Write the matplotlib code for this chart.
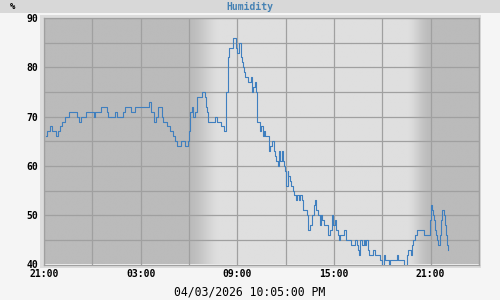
import numpy as np
import pandas as pd
import matplotlib
matplotlib.use('Agg')
import matplotlib.pyplot as plt
import matplotlib.dates as mdates
from matplotlib.patches import Rectangle
from matplotlib.ticker import MultipleLocator

start = pd.Timestamp('2026-03-03 21:00')
end = pd.Timestamp('2026-03-05 00:00')

# minutes after 21:00 (03/03) where the reading changes, and the new reading (%)
minutes = [
    7, 12, 22, 30, 45, 52, 60, 67, 79, 92,
    122, 130, 139, 157, 186, 191, 212, 234, 237, 265,
    273, 296, 303, 323, 339, 391, 397, 410, 416, 424,
    439, 445, 457, 470, 482, 488, 495, 511, 525, 536,
    539, 544, 550, 556, 563, 569, 588, 599, 603, 606,
    612, 637, 646, 659, 672, 676, 679, 685, 689, 702,
    714, 720, 728, 733, 738, 741, 743, 747, 761, 770,
    774, 776, 780, 784, 789, 793, 795, 805, 809, 814,
    817, 820, 824, 839, 842, 849, 855, 861, 865, 870,
    876, 880, 886, 890, 894, 898, 902, 907, 910, 917,
    920, 927, 932, 938, 944, 949, 954, 960, 964, 981,
    985, 989, 998, 1004, 1010, 1014, 1019, 1026, 1031, 1035,
    1044, 1056, 1066, 1072, 1076, 1085, 1088, 1095, 1099, 1103,
    1119, 1124, 1144, 1159, 1165, 1169, 1174, 1178, 1184, 1190,
    1196, 1200, 1205, 1209, 1227, 1234, 1250, 1259, 1265, 1271,
    1283, 1290, 1314, 1320, 1339, 1352, 1355, 1368, 1370, 1376,
    1383, 1389, 1414, 1436, 1439, 1441, 1445, 1449, 1453, 1457,
    1461, 1465, 1469, 1476, 1480, 1482, 1488, 1492, 1497, 1500,
    1505,
]
humidity = [
    66, 67, 68, 67, 66, 67, 68, 69, 70, 71,
    70, 69, 70, 71, 70, 71, 72, 71, 70, 71,
    70, 71, 72, 71, 72, 73, 71, 69, 70, 72,
    70, 69, 68, 67, 66, 65, 64, 65, 64, 65,
    67, 71, 72, 70, 71, 74, 75, 74, 72, 71,
    69, 70, 69, 68, 67, 71, 75, 82, 84, 86,
    84, 83, 85, 82, 81, 80, 79, 78, 77, 78,
    77, 75, 76, 77, 75, 71, 69, 67, 68, 67,
    66, 67, 66, 63, 64, 65, 63, 62, 61, 60,
    63, 61, 63, 61, 60, 59, 56, 59, 58, 57,
    56, 55, 54, 53, 54, 53, 54, 53, 51, 50,
    47, 48, 50, 52, 53, 51, 50, 48, 50, 49,
    48, 46, 47, 50, 48, 49, 47, 46, 45, 46,
    47, 45, 44, 45, 44, 43, 42, 45, 44, 45,
    44, 45, 43, 42, 43, 42, 41, 40, 42, 41,
    40, 41, 42, 41, 40, 42, 43, 42, 44, 45,
    46, 47, 46, 47, 49, 52, 51, 50, 49, 47,
    46, 45, 44, 46, 49, 51, 50, 48, 46, 44,
    43,
]

# day / night shading
dawn = (pd.Timestamp('2026-03-04 06:00'), pd.Timestamp('2026-03-04 08:00'))
dusk = (pd.Timestamp('2026-03-04 19:30'), pd.Timestamp('2026-03-04 21:00'))
night_level, day_level = 0xbb, 0xdf

times = start + pd.to_timedelta(minutes, unit='min')

fig = plt.figure(figsize=(5, 3), dpi=100, facecolor='#f5f5f5')
fig.patches.append(Rectangle((0, 1 - 12.7 / 300), 1, 12.7 / 300, transform=fig.transFigure,
                             facecolor='#d8d8d8', edgecolor='none', zorder=-10))
fig.patches.append(Rectangle((40 / 500, 32 / 300), 441 / 500, 253 / 300, transform=fig.transFigure,
                             facecolor='#dcdcdc', edgecolor='none', zorder=-10))

ax = fig.add_axes([44 / 500, 35.5 / 300, 435 / 500, 246.5 / 300])

grid_t = pd.date_range(start, end, freq='1min')
up = np.asarray((grid_t - dawn[0]) / (dawn[1] - dawn[0]), dtype=float)
down = np.asarray((dusk[1] - grid_t) / (dusk[1] - dusk[0]), dtype=float)
frac = np.clip(np.minimum(up, down), 0, 1)
frac = frac * frac * (3 - 2 * frac)
shade = night_level + (day_level - night_level) * frac
ax.imshow(shade[None, :], extent=[mdates.date2num(start), mdates.date2num(end), 40, 90],
          aspect='auto', cmap='gray', vmin=0, vmax=255, zorder=0, interpolation='bilinear')

ax.plot(times, humidity, drawstyle='steps-post', color='#3f7fbf', lw=0.8, zorder=3)

ax.set_xlim(start, end)
ax.set_ylim(40, 90)
ax.xaxis.set_major_locator(mdates.HourLocator(byhour=[3, 9, 15, 21]))
ax.xaxis.set_minor_locator(mdates.HourLocator(byhour=range(0, 24, 3)))
ax.xaxis.set_major_formatter(mdates.DateFormatter('%H:%M'))
ax.yaxis.set_major_locator(MultipleLocator(10))
ax.yaxis.set_minor_locator(MultipleLocator(5))
ax.grid(True, which='both', color='#a0a0a0', lw=0.9, zorder=1)
ax.set_axisbelow(False)
for s in ax.spines.values():
    s.set_color('#a0a0a0')
    s.set_linewidth(0.9)
ax.tick_params(which='both', length=0)
ax.tick_params(axis='y', pad=4)
ax.tick_params(axis='x', pad=3.5)
for lab in ax.get_xticklabels() + ax.get_yticklabels():
    lab.set_family('DejaVu Sans Mono')
    lab.set_fontweight('bold')
    lab.set_fontsize(7)

fig.text(13 / 500, 1 - 6.5 / 300, '%', family='DejaVu Sans Mono', weight='bold',
         fontsize=6.5, ha='center', va='center')
fig.text(0.5, 1 - 6.5 / 300, 'Humidity', family='DejaVu Sans Mono', weight='bold',
         fontsize=7, color='#4682b4', ha='center', va='center')
fig.text(0.5, 1 - 292 / 300, '04/03/2026 10:05:00 PM', family='DejaVu Sans Mono',
         fontsize=8.3, ha='center', va='center')

fig.savefig('out.png', dpi=100, facecolor='#f5f5f5')
